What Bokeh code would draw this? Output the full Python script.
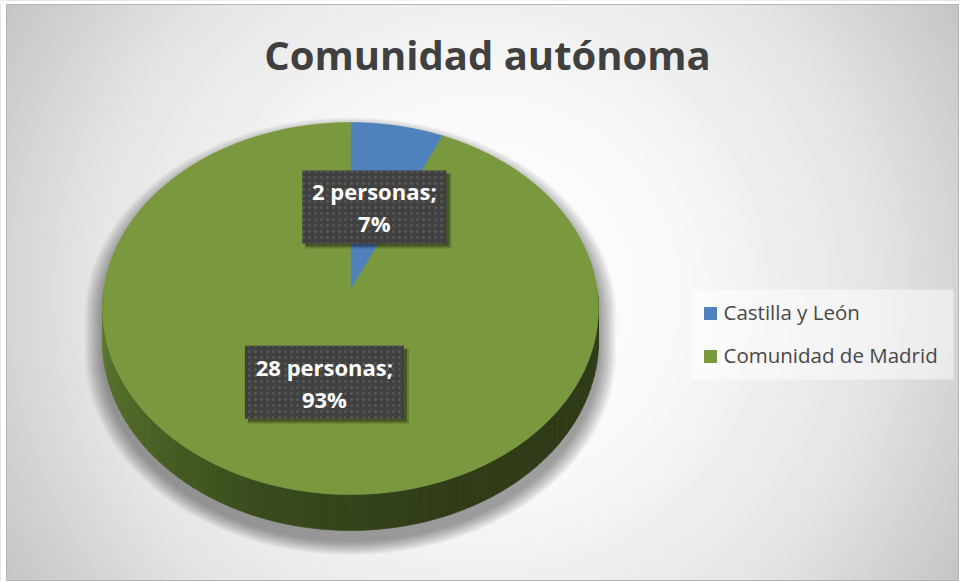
import numpy as np
from bokeh.plotting import figure
from bokeh.models import Range1d
from bokeh.core.properties import value
from bokeh.embed import file_html
from bokeh.resources import INLINE

# ---------------- data ----------------
chart_title = "Comunidad autónoma"
categories = ["Castilla y León", "Comunidad de Madrid"]
counts = [2, 28]
unit_label = "personas"
slice_colors = ["#4f81bd", "#7a993e"]

FONT = "Open Sans"

# ---------------- figure (coordinates = page pixels) ----------------
W, H = 960, 582
p = figure(width=W, height=H, x_range=Range1d(0, W), y_range=Range1d(H, 0),
           output_backend="svg", toolbar_location=None, min_border=0)
p.axis.visible = False
p.grid.visible = False
p.outline_line_color = None
p.background_fill_color = "white"
p.border_fill_color = "white"

# chart area
X0, X1, Y0, Y1 = 6, 958, 4, 580

# radial background gradient (style only)
gcx, gcy = 482, 292
radii = np.arange(580, 0, -8)
def gray_at(t):
    return np.interp(t, [0.0, 0.35, 0.7, 1.0], [255, 249, 229, 196])
bg_cols = []
for r in radii:
    g = int(round(gray_at(min(r / 565.0, 1.0))))
    bg_cols.append("#%02x%02x%02x" % (g, g, g))
p.rect(x=[(X0 + X1) / 2], y=[(Y0 + Y1) / 2], width=X1 - X0, height=Y1 - Y0,
       fill_color="#c4c4c4", line_color=None)
p.circle(x=[gcx] * len(radii), y=[gcy] * len(radii), radius=radii,
         fill_color=bg_cols, line_color=None)
# white page margins around the chart area
p.quad(left=[-10, -10, -10, X1], right=[X0, W + 10, W + 10, W + 10],
       bottom=[H + 10, Y0, H + 10, H + 10], top=[-10, -10, Y1, -10],
       fill_color="white", line_color=None)
p.rect(x=[(X0 + X1) / 2], y=[(Y0 + Y1) / 2], width=X1 - X0, height=Y1 - Y0,
       fill_color=None, line_color="#b4b4b4", line_width=1)

# ---------------- 3D pie projection ----------------
cx, cy = 350, 290          # pie centre (vertex of slices)
A, B, c = 246.8, 184.3, 0.0968
D = 32.5                   # thickness


def proj(phi, r=1.0, depth=0.0):
    u, v = r * np.sin(phi), r * np.cos(phi)
    s = 1.0 / (1.0 + c * v)
    return cx + A * u * s, cy - B * v * s + D * s * depth


total = float(sum(counts))
fracs = [v / total for v in counts]
starts = np.concatenate([[0.0], np.cumsum(fracs)[:-1]]) * 2 * np.pi
ends = np.cumsum(fracs) * 2 * np.pi

# silhouette for shadow
phi_ext = np.arccos(-c)
back = np.linspace(-phi_ext, phi_ext, 120)
front = np.linspace(phi_ext, 2 * np.pi - phi_ext, 120)
bx, by = proj(back)
fx, fy = proj(front, depth=1.0)
sil_x = np.concatenate([bx, fx])
sil_y = np.concatenate([by, fy])
scx, scy = 350, 330
sh_xs, sh_ys = [], []
for k in range(12, 0, -1):
    f = 1.0 + 0.006 * k
    sh_xs.append(list(scx + (sil_x - scx) * f))
    sh_ys.append(list(scy + (sil_y - scy) * f + 10))
p.patches(xs=sh_xs, ys=sh_ys, fill_color="black", fill_alpha=0.035, line_color=None)

# side wall (front half) with shading
side_phi = np.linspace(np.pi / 2, 3 * np.pi / 2, 91)
stops_deg = [90, 160, 200, 240, 270]
stops_rgb = np.array([(46, 58, 23), (48, 61, 24), (58, 76, 30), (80, 106, 40), (95, 126, 48)])
side_xs, side_ys, side_cols = [], [], []
for a0, a1 in zip(side_phi[:-1], side_phi[1:]):
    x0, y0 = proj(a0)
    x1, y1 = proj(a1)
    x2, y2 = proj(a1, depth=1.0)
    x3, y3 = proj(a0, depth=1.0)
    side_xs.append([x0, x1, x2, x3])
    side_ys.append([y0, y1, y2, y3])
    deg = np.degrees((a0 + a1) / 2)
    rgb = [int(np.interp(deg, stops_deg, stops_rgb[:, j])) for j in range(3)]
    side_cols.append("#%02x%02x%02x" % tuple(rgb))
p.patches(xs=side_xs, ys=side_ys, fill_color=side_cols, line_color=side_cols, line_width=0.6)

# top face slices
top_xs, top_ys = [], []
for a0, a1 in zip(starts, ends):
    ang = np.linspace(a0, a1, 200)
    ex, ey = proj(ang)
    top_xs.append([cx] + list(ex))
    top_ys.append([cy] + list(ey))
p.patches(xs=top_xs, ys=top_ys, fill_color=slice_colors, line_color=slice_colors, line_width=0.5)

# ---------------- data labels ----------------
mids = (starts + ends) / 2
lab_x, lab_y = proj(mids, r=0.485)
line1 = [f"{n} {unit_label};" for n in counts]
line2 = [f"{round(100 * f)}%" for f in fracs]
box_w = [15.0 * len(t) - 21 for t in line1]
box_h = 73

p.rect(x=lab_x + 4, y=lab_y + 4, width=[w + 2 for w in box_w], height=box_h + 2,
       fill_color="black", fill_alpha=0.18, line_color=None)
p.rect(x=lab_x + 3, y=lab_y + 3, width=box_w, height=box_h,
       fill_color="black", fill_alpha=0.3, line_color=None)
p.rect(x=lab_x, y=lab_y, width=box_w, height=box_h, fill_color="#404040",
       line_color=None, hatch_pattern="dot", hatch_color="#575757",
       hatch_scale=6, hatch_weight=1.2)
p.text(x=lab_x, y=lab_y - 15.5, text=line1, text_align="center", text_baseline="alphabetic",
       text_color="white", text_font=value(FONT), text_font_style="bold",
       text_font_size="22px")
p.text(x=lab_x, y=lab_y + 16.5, text=line2, text_align="center", text_baseline="alphabetic",
       text_color="white", text_font=value(FONT), text_font_style="bold",
       text_font_size="22px")

# ---------------- title ----------------
p.text(x=[487], y=[54], text=[chart_title], text_align="center", text_baseline="alphabetic",
       text_color="#404040", text_font=value(FONT), text_font_style="bold",
       text_font_size="40px")

# ---------------- legend ----------------
p.rect(x=[822], y=[334], width=262, height=90, fill_color="white", fill_alpha=0.5,
       line_color=None)
leg_y = [313 + 43 * i for i in range(len(categories))]
p.rect(x=[710] * len(categories), y=leg_y, width=13, height=13,
       fill_color=slice_colors, line_color=None)
p.text(x=[723] * len(categories), y=[yy - 2 for yy in leg_y], text=categories,
       text_align="left", text_baseline="alphabetic", text_color="#484848",
       text_font=value(FONT), text_font_size="20.5px")

open("out.html", "w").write(file_html(p, INLINE))
